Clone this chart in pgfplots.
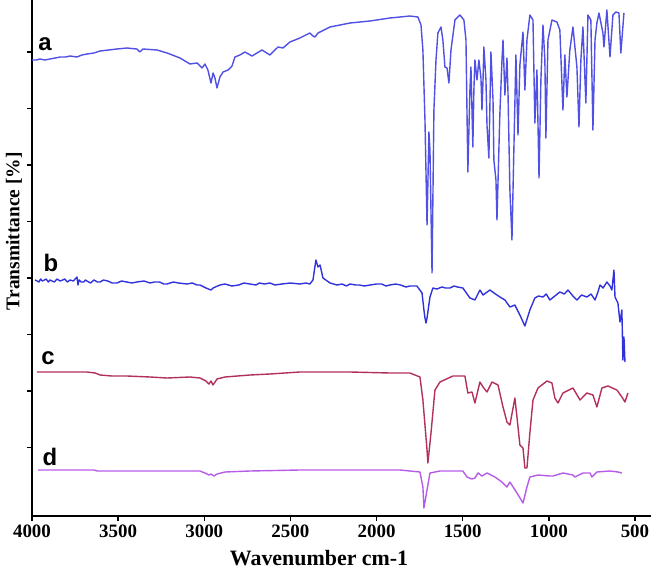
\documentclass[border=0pt]{standalone}
\usepackage{fontspec}
\setmainfont{Liberation Serif}
\newfontfamily\labfont{Liberation Sans}
\usepackage{pgfplots}
\pgfplotsset{compat=1.18}
\definecolor{colA}{RGB}{80,80,228}
\definecolor{colB}{RGB}{50,50,220}
\definecolor{colC}{RGB}{178,48,92}
\definecolor{colD}{RGB}{182,92,232}
\begin{document}
\begin{tikzpicture}
\begin{axis}[
  at={(32bp,53bp)}, anchor=south west,
  scale only axis, width=619bp, height=516bp,
  x dir=reverse, xmin=407, xmax=4000,
  y dir=reverse, ymin=0, ymax=516,
  axis x line*=bottom, axis y line*=left,
  axis line style={line width=1.8bp, -, black},
  xtick={500,1000,...,4000},
  ytick={52,108.5,165,221.5,278,334.5,391,447.5}, yticklabels={},
  tick align=outside, major tick length=5bp,
  tick style={black, line width=1.4bp},
  /pgf/number format/assume math mode=true,
  /pgf/number format/1000 sep={},
  xticklabel style={font=\bfseries\fontsize{19}{19}\selectfont},
  xlabel={Wavenumber cm-1},
  xlabel style={font=\bfseries\fontsize{22}{22}\selectfont, at={(axis description cs:0.4637,0)}, anchor=base, yshift=-49bp},
  ylabel={Transmittance [\%]},
  ylabel style={font=\bfseries\fontsize{19.5}{19.5}\selectfont, at={(axis description cs:-0.029,0.552)}, anchor=center},
  every axis plot/.append style={line width=1.4bp, line join=round},
  clip=false,
]
% spectrum a
\addplot[colA] coordinates {
(4000,60) (3975,60) (3954,59) (3925,60) (3896,59) (3865,58) (3837,57) (3805,57) (3779,56) (3739,57) (3710,55) (3681,54) (3640,53) (3605,51) (3555,50) (3507,49) (3449,48)
(3391,49) (3373,52) (3356,49) (3274,50) (3216,53) (3141,58) (3083,64) (3042,63) (3013,68) (2996,64)
(2979,70) (2961,83) (2949,73) (2938,78) (2926,88) (2909,77) (2891,72) (2862,70) (2839,66) (2822,57)
(2793,55) (2764,52) (2723,56) (2665,50) (2619,55) (2572,47) (2543,48) (2503,42) (2445,38) (2387,33)
(2369,36) (2357,37) (2340,33) (2270,27) (2154,23) (2038,21) (1922,18) (1806,16) (1760,17) (1742,25)
(1731,50) (1719,120) (1707,225) (1696,132) (1690,150) (1678,273) (1667,110) (1655,60) (1644,33) (1626,27)
(1615,40) (1603,67) (1591,68) (1580,83) (1568,50) (1545,20) (1516,15) (1493,20) (1481,40) (1470,172)
(1458,90) (1452,67) (1441,147) (1435,90) (1429,60) (1417,80) (1406,60) (1394,78) (1388,110) (1382,80)
(1377,47) (1365,80) (1359,125) (1348,158) (1336,52) (1324,100) (1319,160) (1307,180) (1301,220) (1290,150)
(1284,113) (1272,60) (1266,40) (1255,95) (1243,58) (1237,93) (1226,190) (1214,240) (1203,150) (1191,55)
(1179,135) (1168,65) (1150,32) (1139,90) (1127,40) (1110,15) (1092,20) (1081,123) (1069,70) (1057,178)
(1046,80) (1034,25) (1023,60) (1017,138) (1005,40) (982,20) (953,22) (936,30) (918,110) (907,55)
(895,97) (878,50) (860,27) (837,67) (825,127) (814,60) (802,27) (785,103) (773,15) (756,20)
(744,130) (732,40) (721,23) (709,13) (686,33) (680,47) (663,10) (645,57) (628,15) (611,12)
(593,13) (582,53) (564,13)
};
% spectrum b
\addplot[colB] coordinates {
(3983,280) (3970,281) (3960,282) (3950,279) (3940,281) (3928,280) (3918,279) (3905,282) (3896,280) (3883,281) (3870,282) (3855,279) (3837,281) (3822,280) (3810,279) (3795,282) (3779,280) (3760,281) (3739,277)
(3733,285) (3727,280) (3715,282) (3700,282) (3690,280) (3681,281) (3660,283) (3640,280) (3620,282) (3605,282) (3585,280) (3560,281) (3535,283) (3507,283) (3480,281) (3450,282) (3420,283) (3391,282)
(3350,281) (3315,283) (3290,282) (3260,282) (3235,284) (3216,284) (3180,282) (3150,283) (3100,284) (3070,283) (3042,285) (3025,285) (2990,288) (2961,290) (2949,288) (2909,285)
(2880,284) (2840,286) (2800,285) (2770,283) (2735,284) (2700,285) (2680,283) (2650,284) (2619,283) (2590,285) (2550,284) (2500,283) (2445,284) (2410,283) (2387,284) (2369,280) (2352,260)
(2340,267) (2328,265) (2311,278) (2270,283) (2230,285) (2200,284) (2175,286) (2154,284) (2120,285) (2100,285) (2070,286) (2038,285) (2000,284) (1970,284) (1945,286) (1922,285)
(1890,284) (1860,285) (1830,287) (1806,286) (1766,286) (1736,293) (1725,310) (1719,318) (1713,323) (1707,318) (1690,297) (1673,288)
(1650,289) (1620,287) (1600,288) (1574,288) (1550,286) (1530,287) (1499,288) (1458,298) (1429,300) (1400,290) (1382,295) (1342,290) (1310,294)
(1284,297) (1255,300) (1226,307) (1197,305) (1168,315) (1139,326) (1110,310) (1081,298) (1060,296) (1034,297) (1015,294) (994,300)
(965,296) (936,292) (910,294) (889,290) (860,296) (837,300) (810,295) (779,297) (755,294) (732,300) (715,292) (703,285) (685,288) (663,282) (645,286) (634,290) (622,270) (616,297)
(599,303) (587,322) (576,310) (570,360) (564,337) (558,362)
};
% spectrum c
\addplot[colC] coordinates {
(3971,372) (3896,372) (3779,372) (3681,372) (3633,373) (3605,375) (3536,376) (3449,376) (3315,377) (3216,378)
(3083,377) (3025,378) (2990,381) (2973,384) (2961,381) (2949,385) (2926,379) (2880,377) (2735,375) (2619,374)
(2445,372) (2154,372) (1922,373) (1806,373) (1748,377) (1731,400) (1707,450) (1702,463) (1684,433) (1661,390)
(1632,382) (1557,376) (1487,376) (1470,393) (1446,392) (1429,403) (1400,382) (1382,387) (1359,392) (1330,382)
(1295,385) (1266,407) (1243,422) (1226,425) (1197,398) (1185,417) (1168,445) (1150,448) (1139,468) (1127,468)
(1110,433) (1092,400) (1063,388) (1011,381) (982,383) (965,398) (947,403) (918,393) (860,388) (819,400)
(779,393) (744,395) (721,407) (692,388) (657,386) (605,390) (576,397) (558,402) (541,393)
};
% spectrum d
\addplot[colD] coordinates {
(3965,470) (3896,470) (3779,470) (3640,470) (3620,471) (3315,471) (3083,471) (3025,471) (2996,473) (2973,475)
(2961,474) (2944,476) (2926,474) (2880,472) (2735,471) (2445,470) (2154,470) (1864,470) (1806,471) (1748,472)
(1731,487) (1725,508) (1707,490) (1690,473) (1632,471) (1499,471) (1475,477) (1446,479) (1429,478) (1411,473)
(1388,476) (1359,473) (1313,477) (1272,482) (1243,487) (1226,482) (1185,493) (1150,503) (1127,487) (1110,477)
(1063,475) (994,476) (976,476) (918,473) (860,475) (849,477) (802,473) (761,473) (750,477) (721,472)
(645,471) (599,472) (576,473)
};
\node[font=\labfont\bfseries\fontsize{24}{24}\selectfont] at (axis cs:3925,44) {a};
\node[font=\labfont\bfseries\fontsize{24}{24}\selectfont] at (axis cs:3890,263) {b};
\node[font=\labfont\bfseries\fontsize{24}{24}\selectfont] at (axis cs:3907,358) {c};
\node[font=\labfont\bfseries\fontsize{24}{24}\selectfont] at (axis cs:3896,457) {d};
\end{axis}
\pgfresetboundingbox
\useasboundingbox (0,0) rectangle (651bp,569bp);
\end{tikzpicture}
\end{document}
